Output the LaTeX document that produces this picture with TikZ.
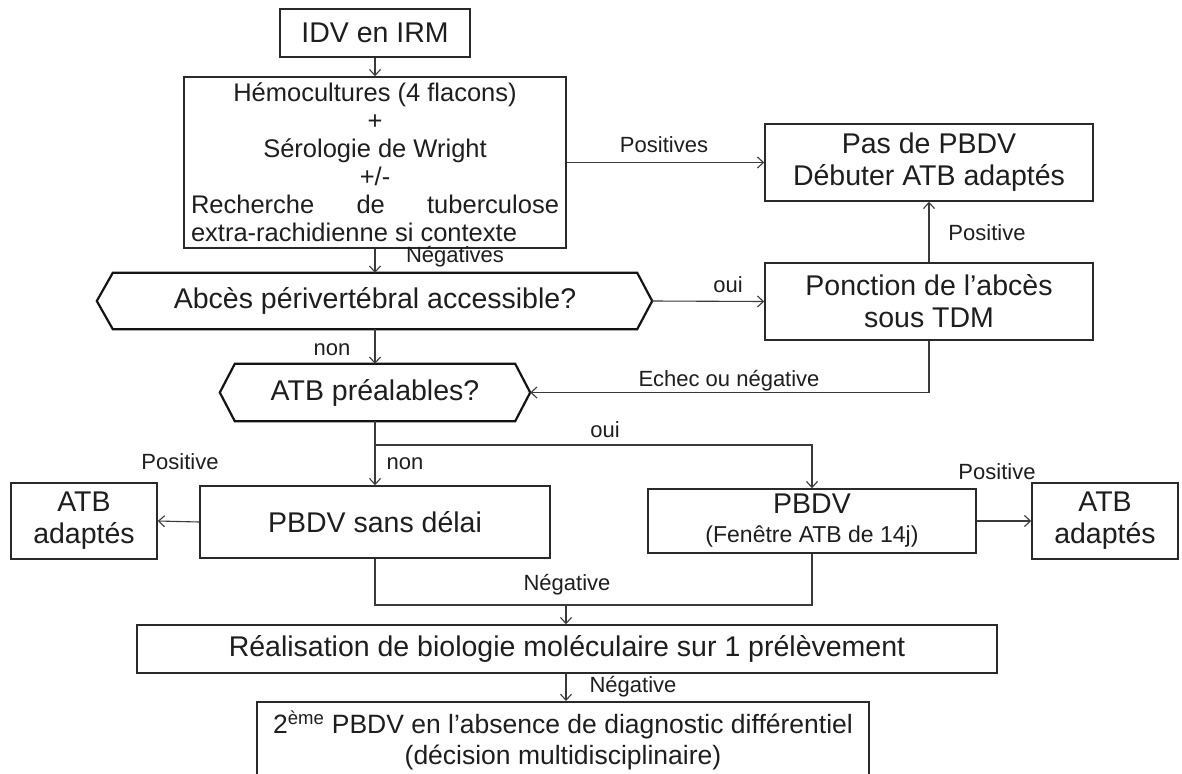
\documentclass[tikz,border=0pt]{standalone}
\usepackage{fontspec}
\setmainfont{Liberation Sans}
\usetikzlibrary{arrows.meta}
\definecolor{txt}{HTML}{1E1E1E}
\definecolor{bd}{HTML}{2A2A2A}
\definecolor{ln}{HTML}{3A3A3A}
\newcommand\fbig{\fontsize{28.5}{32}\selectfont}
\newcommand\fmid{\fontsize{25.5}{28}\selectfont}
\newcommand\fsub{\fontsize{23}{26}\selectfont}
\newcommand\flab{\fontsize{22}{24}\selectfont}
\begin{document}
\begin{tikzpicture}[x=1pt,y=-1pt,
  every node/.style={text=txt, inner sep=0pt},
  box/.style={draw=bd, line width=1.5pt, fill=white, align=center, font=\fbig},
  hexcore/.style={align=center, font=\fbig},
  hexline/.style={draw=black!92, line width=2.2pt, line join=miter},
  conn/.style={draw=ln, line width=1.1pt},
  arr/.style={conn, -{Straight Barb[length=6pt,width=11pt]}},
  lab/.style={font=\flab, text height=15.5pt, text depth=4pt}
]
\clip (0,0) rectangle (1182,773);
\fill[white] (0,0) rectangle (1182,773);

% boxes
\node[box, minimum width=190pt, minimum height=48pt] (idv) at (375,33) {IDV en IRM};
\node[box, minimum width=382pt, minimum height=171pt, font=\fmid] (hemo) at (375,162.5)
  {Hémocultures (4 flacons)\\+\\Sérologie de Wright\\+/-\\
   \makebox[368pt][s]{Recherche de tuberculose}\\
   \makebox[368pt][l]{extra-rachidienne si contexte}};
\node[box, minimum width=328pt, minimum height=77pt] (pas) at (929,162.5) {Pas de PBDV\\Débuter ATB adaptés};
\node[box, minimum width=328pt, minimum height=77pt] (ponc) at (929,301.5) {Ponction de l’abcès\\sous TDM};

% decision hexagons
\node[hexcore, minimum width=524pt, minimum height=56pt] (abces) at (375,301) {Abcès périvertébral accessible?};
\coordinate (abcesR) at ([xshift=15pt]abces.east);
\coordinate (abcesL) at ([xshift=-16pt]abces.west);
\draw[hexline] (abces.north west) -- (abces.north east) -- (abcesR) -- (abces.south east)
  -- (abces.south west) -- (abcesL) -- cycle;

\node[hexcore, minimum width=280pt, minimum height=57pt] (atbp) at (375,392.5) {ATB préalables?};
\coordinate (atbpR) at ([xshift=15pt]atbp.east);
\coordinate (atbpL) at ([xshift=-15pt]atbp.west);
\draw[hexline] (atbp.north west) -- (atbp.north east) -- (atbpR) -- (atbp.south east)
  -- (atbp.south west) -- (atbpL) -- cycle;

\node[box, minimum width=350pt, minimum height=72pt] (sd) at (375,522) {PBDV sans délai};
\node[box, minimum width=146pt, minimum height=76pt] (atbl) at (84,521) {ATB\\adaptés};
\node[box, minimum width=328pt, minimum height=64pt] (pbdv) at (812,521) {PBDV\\[-3pt]{\fsub (Fenêtre ATB de 14j)}};
\node[box, minimum width=146pt, minimum height=76pt] (atbr) at (1105,521) {ATB\\adaptés};
\node[box, minimum width=860pt, minimum height=48pt] (real) at (567,649) {Réalisation de biologie moléculaire sur 1 prélèvement};
\node[box, minimum width=612pt, minimum height=78pt, anchor=north, font=\fontsize{26.5}{31}\selectfont] (deux) at (563,701)
  {2\textsuperscript{ème} PBDV en l’absence de diagnostic différentiel\\(décision multidisciplinaire)};

% connectors
\draw[arr] (idv.south) -- (idv.south |- hemo.north);
\draw[arr] (hemo.east) -- (pas.west);
\draw[arr] (hemo.south) -- (abces.north);
\draw[arr] (abcesR) -- (ponc.west);
\draw[arr] (ponc.north) -- (pas.south);
\draw[arr] (ponc.south) |- (atbpR);
\draw[arr] (abces.south) -- (atbp.north);
\draw[arr] (atbp.south) -- (sd.north);
\coordinate (split) at (atbp.south |- 0,445);
\draw[arr] (split) -| (pbdv.north);
\draw[arr] (sd.west) -- (atbl.east);
\draw[arr] (pbdv.east) -- (atbr.west);
\coordinate (merge) at (566,605);
\draw[conn] (sd.south) |- (merge);
\draw[conn] (pbdv.south) |- (merge);
\draw[arr] (merge) -- (merge |- real.north);
\draw[arr] (merge |- real.south) -- (merge |- deux.north);

% labels
\node[lab] (lposs) at (664,147) {Positives};
\node[lab] (lnegs) at (455,257) {Négatives};
\node[lab] (loui1) at (728,287) {oui};
\node[lab] (lpos1) at (987,235) {Positive};
\node[lab] (lnon1) at (332,350) {non};
\node[lab] (lech) at (729,381) {Echec ou négative};
\node[lab] (loui2) at (605,432) {oui};
\node[lab] (lpos2) at (180,464) {Positive};
\node[lab] (lnon2) at (405,464) {non};
\node[lab] (lpos3) at (997,474) {Positive};
\node[lab] (lneg1) at (567,585) {Négative};
\node[lab] (lneg2) at (633,687) {Négative};
\end{tikzpicture}
\end{document}
